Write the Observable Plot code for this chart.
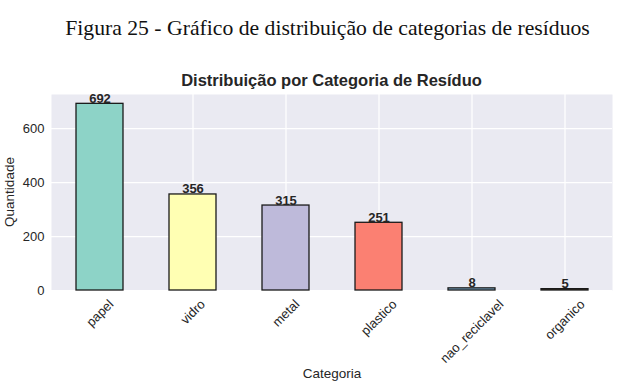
<!DOCTYPE html>
<html>
<head>
<meta charset="utf-8">
<script src="https://cdn.jsdelivr.net/npm/d3@7"></script>
<script src="https://cdn.jsdelivr.net/npm/@observablehq/plot@0.6"></script>
<style>
  html, body { margin: 0; padding: 0; background: #fff; }
  #wrap { position: relative; width: 625px; height: 389px; overflow: hidden; }
  #caption { position: absolute; left: 0; top: 14.5px; width: 655px; text-align: center;
    font-family: "Liberation Serif", "Times New Roman", serif; font-size: 21.7px; color: #111; line-height: 26px; white-space: nowrap; }
  #title { position: absolute; left: 51px; top: 71px; width: 561px; text-align: center;
    font-family: "Liberation Sans", Arial, sans-serif; font-size: 16.5px; font-weight: bold; color: #262626; line-height: 19px; white-space: nowrap; }
  #ylabel { position: absolute; left: -40px; top: 182px; width: 100px; height: 20px; line-height: 20px; text-align: center;
    transform: rotate(-90deg); transform-origin: 50% 50%;
    font-family: "Liberation Sans", Arial, sans-serif; font-size: 13.5px; color: #262626; white-space: nowrap; }
  #chart { position: absolute; left: 0; top: 0; }
</style>
</head>
<body>
<div id="wrap">
  <div id="chart"></div>
  <div id="caption">Figura 25 - Gráfico de distribuição de categorias de resíduos</div>
  <div id="title">Distribuição por Categoria de Resíduo</div>
  <div id="ylabel">Quantidade</div>
</div>
<script>
const categories = ["papel", "vidro", "metal", "plastico", "nao_reciclavel", "organico"];
const counts = [692, 356, 315, 251, 8, 5];
const colors = ["#8dd3c7", "#ffffb3", "#bebada", "#fb8072", "#80b1d3", "#fdb462"];
const yTicks = [0, 200, 400, 600];

const data = categories.map((c, i) => ({category: c, count: counts[i], color: colors[i]}));

const FONT = "'Liberation Sans', Arial, sans-serif";
const tickFontSize = 13;
const ctx = document.createElement("canvas").getContext("2d");
ctx.font = `${tickFontSize}px ${FONT}`;

const xLabelMarks = categories.map(c => {
  const L = ctx.measureText(c).width;
  const dy = 7 + (L + tickFontSize) * Math.SQRT1_2 / 2;
  return Plot.text([c], {x: d => d, y: 0, text: d => d, rotate: -45, dy,
    textAnchor: "middle", lineAnchor: "middle", fontSize: tickFontSize, fill: "#262626"});
});

const chart = Plot.plot({
  width: 625, height: 389,
  marginLeft: 51, marginRight: 13, marginTop: 94, marginBottom: 99,
  style: {fontFamily: FONT, fontSize: "13px", background: "transparent", overflow: "visible"},
  x: {domain: categories, paddingInner: 0.5, paddingOuter: 0.25, axis: null},
  y: {domain: [0, 726.6], axis: null},
  marks: [
    Plot.frame({fill: "#eaeaf2", stroke: null}),
    Plot.ruleX(categories, {x: d => d, stroke: "white", strokeWidth: 1.2}),
    Plot.ruleY(yTicks, {y: d => d, stroke: "white", strokeWidth: 1.2}),
    Plot.barY(data, {x: "category", y: "count", fill: "color", stroke: "#1a1a1a", strokeWidth: 1.3}),
    Plot.text(data, {x: "category", y: "count", text: d => String(d.count), dy: -1, lineAnchor: "bottom",
      fontWeight: "bold", fontSize: 13, fill: "#262626"}),
    Plot.axisY({ticks: yTicks, tickSize: 0, tickPadding: 7, label: null, fontSize: 13, color: "#262626"}),
    ...xLabelMarks,
    Plot.text(["Categoria"], {text: d => d, frameAnchor: "bottom", dy: 87, fontSize: 13.5, fill: "#262626"})
  ]
});
document.getElementById("chart").appendChild(chart);
</script>
</body>
</html>
